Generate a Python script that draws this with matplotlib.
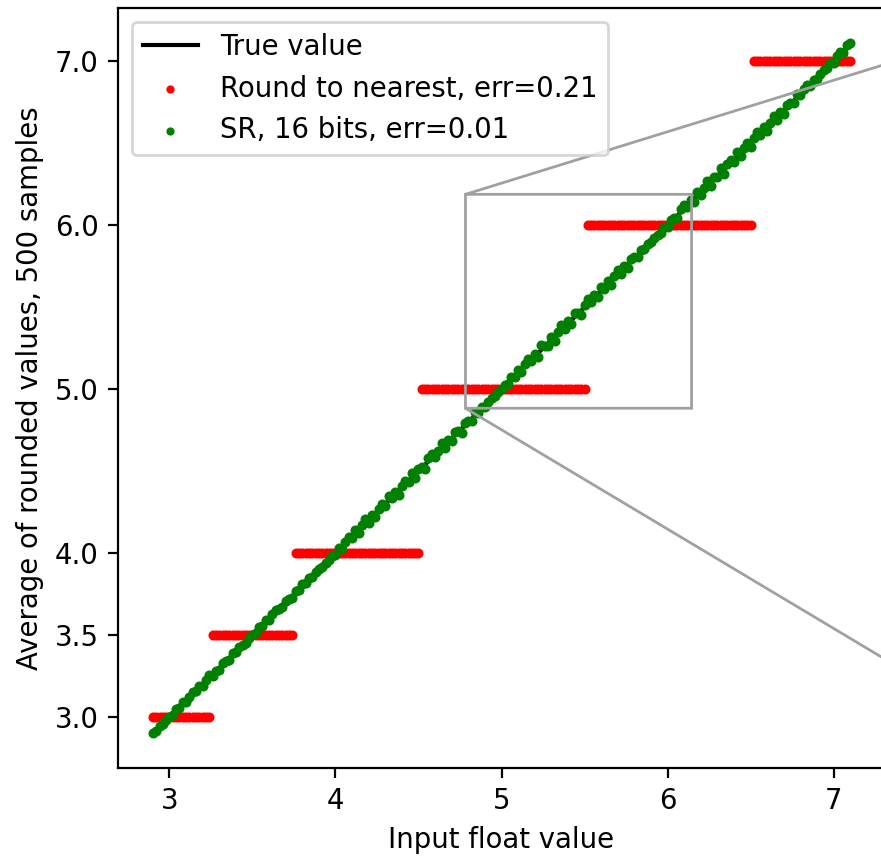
import numpy as np
import matplotlib
matplotlib.use("Agg")
import matplotlib.pyplot as plt

# input float values fed to the rounding routines
inputs = np.linspace(2.9, 7.1, 211)

# representable values of the low-precision format and the midpoints between them
levels = [3.0, 3.5, 4.0, 5.0, 6.0, 7.0]
midpoints = [3.25, 3.75, 4.5, 5.5, 6.5]

# stochastic-rounding average minus the true value, in thousandths
sr_offset = [
    3, -5, 8, -2, 4, 0, -6, 9, -3, 12, -8, 5, 10, -4, 7,
    -11, 6, 14, -7, 3, -12, 9, 4, -9, 13, -5, 8, 2, -6, 5,
    0, -7, 10, -4, 12, -9, 6, 15, -3, -10, 8, 3, -12, 11, -5,
    9, -2, 7, -8, 4, 6, -3, 2, 0, 5, -9, 11, -14, 8, 17,
    -6, 21, -15, 9, 26, -18, 12, -22, 7, 19, -11, 28, -4, 16, -25,
    10, 23, -8, 30, -19, 14, 4, -27, 18, 24, -13, 6, 31, -20, 11,
    -16, 22, 3, -24, 15, 9, -12, 19, -7, 13, -10, 5, 8, -4, 2,
    0, 6, -9, 14, -5, 20, -17, 11, 25, -8, 16, -22, 27, 4, -14,
    21, -26, 9, 29, -11, 18, -20, 24, 7, -29, 15, 32, -6, 12, -18,
    26, -9, 19, -24, 8, 30, -15, 13, -21, 17, 5, -12, 10, -6, 7,
    -3, 4, 0, -5, 8, -11, 15, 6, -14, 19, 23, -9, 12, -20, 26,
    -16, 10, 28, -22, 17, -8, 31, -27, 14, 20, -12, 25, -18, 9, 22,
    -25, 13, 29, -10, 18, -23, 6, 27, -15, 11, -19, 16, 8, -13, 21,
    -7, 12, 15, -11, 9, -5, 4, 6, -3, 10, -8, 13, 18, -9, 22,
    15,
]

nearest = np.array(levels)[np.searchsorted(midpoints, inputs)]
sr_avg = inputs + np.array(sr_offset) / 1000.0


def draw(ax):
    ax.plot(inputs, inputs, color="k", label="True value")
    # dots go on top of the reference line
    ax.scatter(inputs, nearest, s=7, color="r", zorder=2,
               label="Round to nearest, err=0.21")
    ax.scatter(inputs, sr_avg, s=7, color="g", zorder=2,
               label="SR, 16 bits, err=0.01")


dpi = 198
fig = plt.figure(figsize=(882 / dpi, 859 / dpi), dpi=dpi)
ax = fig.add_axes([118 / 882, 1 - 768 / 859, 767 / 882, 760 / 859])
draw(ax)
ax.legend(loc="upper left", markerscale=0.75)
ax.set_yticks(levels)
ax.set_xlabel("Input float value")
ax.set_ylabel("Average of rounded values, 500 samples")

# zoomed view sits to the right of the main panel
zoom = fig.add_axes([1067 / 882, 1 - 768 / 859, 767 / 882, 760 / 859])
draw(zoom)
zoom.set_xlim(4.783, 6.145)
zoom.set_ylim(4.884, 6.189)
zoom.tick_params(labelleft=False, labelbottom=False)
ind = ax.indicate_inset_zoom(zoom, edgecolor="#a0a0a0", alpha=1)
# keep the two connectors that run from the left corners of the box
for c, vis in zip(ind.connectors, [True, True, False, False]):
    c.set_visible(vis)

fig.savefig("out.png", dpi=dpi)
